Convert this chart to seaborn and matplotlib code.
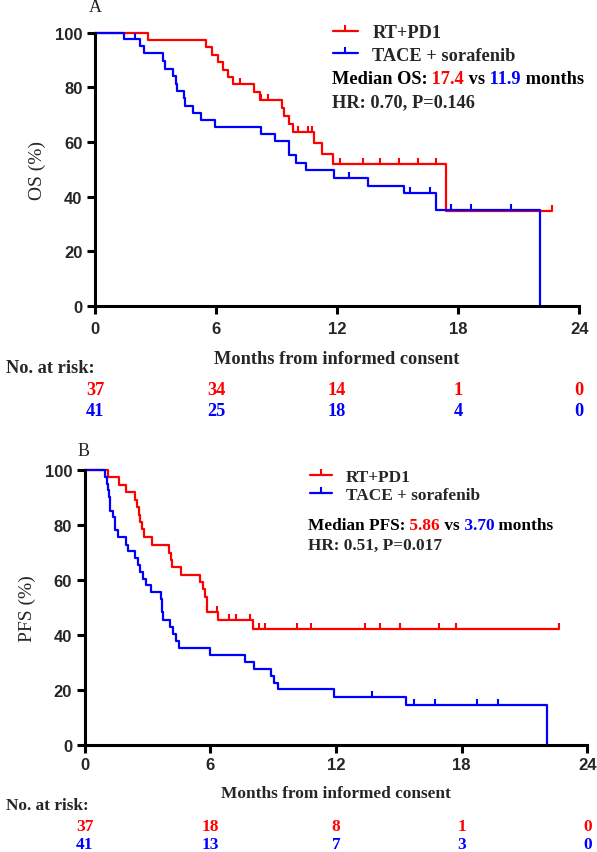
import numpy as np
import matplotlib
matplotlib.use("Agg")
import matplotlib.pyplot as plt
import seaborn as sns
from matplotlib.path import Path
from matplotlib.lines import Line2D
from matplotlib.transforms import blended_transform_factory

# ---------------------------------------------------------------------------
# Data (months, survival %)
# ---------------------------------------------------------------------------
# Panel A: overall survival
os_rt_times = [2.62, 5.49, 5.78, 6.08, 6.36, 6.60, 6.85, 7.89, 8.17, 9.25, 9.35,
               9.63, 9.80, 10.85, 11.26, 11.79, 17.39]
os_rt_surv = [97.2, 94.6, 91.9, 89.2, 86.5, 83.8, 81.1, 78.3, 75.5, 72.6, 69.6,
              66.5, 63.6, 59.6, 55.7, 52.0, 34.8]
os_rt_cens = [7.20, 8.25, 8.58, 10.05, 10.55, 10.75, 12.12, 13.27, 14.10, 15.07,
              16.00, 16.90, 22.64]

os_tace_times = [1.45, 2.22, 2.45, 3.39, 3.47, 3.88, 4.00, 4.07, 4.39, 4.46, 4.87,
                 5.25, 5.94, 8.23, 8.94, 9.63, 9.96, 10.45, 11.85, 13.52, 15.32,
                 16.90, 22.03]
os_tace_surv = [97.6, 95.0, 92.5, 89.5, 86.8, 84.0, 81.3, 78.8, 76.0, 73.3, 70.5,
                68.0, 65.4, 62.9, 60.2, 55.2, 52.5, 49.9, 47.0, 44.0, 41.3, 35.0, 0.0]
os_tace_cens = [2.00, 12.60, 15.60, 16.60, 17.65, 18.63, 20.60]

# Panel B: progression-free survival
pfs_rt_times = [1.14, 1.67, 1.99, 2.42, 2.51, 2.59, 2.67, 2.75, 2.83, 3.23, 4.05,
                4.13, 4.17, 4.61, 5.53, 5.65, 5.75, 5.86, 6.39, 8.04]
pfs_rt_surv = [97.3, 94.6, 91.9, 89.2, 86.5, 83.8, 81.1, 78.4, 75.7, 72.7, 70.0,
               67.4, 64.9, 62.0, 59.3, 56.6, 53.9, 48.5, 45.6, 42.2]
pfs_rt_cens = [6.31, 6.90, 7.23, 7.90, 8.32, 8.60, 10.14, 10.83, 13.37, 14.10,
               15.07, 16.93, 17.73, 22.67]

pfs_tace_times = [0.99, 1.07, 1.14, 1.19, 1.24, 1.35, 1.46, 1.59, 1.99, 2.10, 2.42,
                  2.54, 2.67, 2.81, 2.94, 3.18, 3.66, 3.70, 3.75, 4.10, 4.21, 4.37,
                  4.50, 6.01, 7.68, 8.08, 8.92, 9.03, 9.22, 11.92, 15.34, 22.07]
pfs_tace_surv = [97.6, 95.0, 92.9, 90.2, 85.2, 82.8, 78.2, 75.8, 72.7, 70.5, 68.1,
                 65.6, 62.9, 60.5, 58.1, 55.6, 53.2, 48.3, 45.6, 42.8, 40.3, 37.9,
                 35.1, 32.6, 30.2, 27.5, 25.1, 22.6, 20.2, 17.4, 14.4, 0.0]
pfs_tace_cens = [13.72, 15.74, 16.74, 18.73, 19.76]

risk_months = [0, 6, 12, 18, 24]
os_risk_rt = [37, 34, 14, 1, 0]
os_risk_tace = [41, 25, 18, 4, 0]
pfs_risk_rt = [37, 18, 8, 1, 0]
pfs_risk_tace = [41, 13, 7, 3, 0]

group_labels = ["RT+PD1", "TACE + sorafenib"]
RED = "#FF0000"
BLUE = "#0000FF"

# ---------------------------------------------------------------------------
sns.set_theme(style="ticks")
plt.rcParams["font.family"] = ["Liberation Serif", "DejaVu Serif"]

W, H = 597, 853
fig = plt.figure(figsize=(W / 100, H / 100), dpi=100)

SERIF = ["Liberation Serif", "DejaVu Serif"]
SANS = ["Liberation Sans", "DejaVu Sans"]

# censor tick: a short line going up from the curve
tick_marker = Path([[0, 0], [0, 1]], [Path.MOVETO, Path.LINETO])


def fx(px):
    return px / W


def fy(py):
    return 1 - py / H


def km_curve(ax, times, surv, cens, color):
    end = max([times[-1]] + list(cens))
    t = [0] + list(times)
    s = [100] + list(surv)
    if surv[-1] > 0:
        t.append(end)
        s.append(surv[-1])
    sns.lineplot(x=t, y=s, ax=ax, color=color, lw=1.6, drawstyle="steps-post",
                 estimator=None, sort=False, legend=False, clip_on=False)
    # survival level at each censoring time
    idx = np.searchsorted(np.array(t), np.array(cens), side="right") - 1
    s_c = np.array(s)[idx]
    ax.plot(cens, s_c, ls="none", marker=tick_marker, ms=9, mew=1.5,
            color=color, clip_on=False)


def panel(rect, curves, ylabel, ylab_x, letter, letter_xy, legend_xy, legend_fs,
          handle_len, labelspacing, stats_xy, stats_parts, hr_text, stat_gap,
          risk_rt, risk_tace, xlab_y, risk_title_y, risk_row_y, tick_pad):
    ax = fig.add_axes(rect)
    for times, surv, cens, color in curves:
        km_curve(ax, times, surv, cens, color)

    ax.set_xlim(0, 24)
    ax.set_ylim(0, 100)
    ax.set_xticks(risk_months)
    ax.set_yticks([0, 20, 40, 60, 80, 100])
    sns.despine(ax=ax)
    for side in ["left", "bottom"]:
        ax.spines[side].set_linewidth(2.2)
        ax.spines[side].set_color("black")
    ax.tick_params(axis="both", direction="out", length=6, width=2.2,
                   color="black", labelsize=12, pad=tick_pad)
    for lab in ax.get_xticklabels() + ax.get_yticklabels():
        lab.set_fontfamily(SANS)
        lab.set_fontweight("bold")
    ax.tick_params(axis="y", pad=3)

    ax.set_ylabel(ylabel, fontsize=14, family=SERIF)
    ax.yaxis.label.set_va("center")
    ax.yaxis.set_label_coords(ylab_x, 0.5)

    ax.set_xlabel("Months from informed consent", fontsize=legend_fs,
                  family=SERIF, fontweight="bold")
    ax.xaxis.label.set_va("center")
    bbox = ax.get_position()
    ax_h_px = bbox.height * H
    ax_bottom_px = (1 - bbox.y0) * H
    ax.xaxis.set_label_coords(0.5, -(xlab_y - ax_bottom_px) / ax_h_px)

    fig.text(fx(letter_xy[0]), fy(letter_xy[1]), letter, ha="center",
             va="center", fontsize=13, family=SERIF)

    handles = [Line2D([], [], color=c, lw=1.6, marker=tick_marker, ms=9, mew=1.5)
               for c in (RED, BLUE)]
    ax.legend(handles, group_labels, loc="center left",
              bbox_to_anchor=(fx(legend_xy[0]), fy(legend_xy[1])),
              bbox_transform=fig.transFigure, frameon=False,
              borderpad=0, borderaxespad=0, handlelength=handle_len,
              handletextpad=0.8, labelspacing=labelspacing,
              prop={"family": SERIF, "weight": "bold", "size": legend_fs})

    # median line with coloured numbers
    t = fig.text(fx(stats_xy[0]), fy(stats_xy[1]), stats_parts[0][0],
                 color=stats_parts[0][1], ha="left", va="center",
                 fontsize=legend_fs, family=SERIF, fontweight="bold")
    for s, c in stats_parts[1:]:
        t = ax.annotate(s, xy=(1, 0), xycoords=t, ha="left", va="bottom",
                        color=c, fontsize=legend_fs, family=SERIF,
                        fontweight="bold")
    fig.text(fx(stats_xy[0]), fy(stats_xy[1] + stat_gap), hr_text, ha="left",
             va="center", fontsize=legend_fs, family=SERIF, fontweight="bold")

    # number at risk table
    fig.text(fx(6), fy(risk_title_y), "No. at risk:", ha="left", va="center",
             fontsize=legend_fs, family=SERIF, fontweight="bold")
    tr = blended_transform_factory(ax.transData, fig.transFigure)
    for m, n in zip(risk_months, risk_rt):
        ax.text(m, fy(risk_row_y[0]), str(n), transform=tr, ha="center",
                va="center", color=RED, fontsize=legend_fs, family=SERIF,
                fontweight="bold")
    for m, n in zip(risk_months, risk_tace):
        ax.text(m, fy(risk_row_y[1]), str(n), transform=tr, ha="center",
                va="center", color=BLUE, fontsize=legend_fs, family=SERIF,
                fontweight="bold")
    return ax


# Panel A (axes spans 95..579 px horizontally, 34..307 px vertically)
panel([fx(95), fy(307), fx(579.3) - fx(95), fy(33.7) - fy(307)],
      [(os_rt_times, os_rt_surv, os_rt_cens, RED),
       (os_tace_times, os_tace_surv, os_tace_cens, BLUE)],
      "OS (%)", -0.119, "A", (95.5, 8), (333, 45), 13.2, 1.35, 0.3,
      (331.7, 80),
      [("Median OS:", "black"), (" 17.4", RED), (" vs", "black"),
       (" 11.9", BLUE), (" months", "black")],
      "HR: 0.70, P=0.146", 23,
      os_risk_rt, os_risk_tace, 360, 369, (391, 412), 5)

# Panel B (axes spans 84.5..587 px horizontally, 471..746 px vertically)
panel([fx(84.5), fy(746), fx(587.3) - fx(84.5), fy(471) - fy(746)],
      [(pfs_rt_times, pfs_rt_surv, pfs_rt_cens, RED),
       (pfs_tace_times, pfs_tace_surv, pfs_tace_cens, BLUE)],
      "PFS (%)", -0.114, "B", (84, 452), (310, 487), 12.4, 1.3, 0.08,
      (308, 526),
      [("Median PFS:", "black"), (" 5.86", RED), (" vs", "black"),
       (" 3.70", BLUE), (" months", "black")],
      "HR: 0.51, P=0.017", 20,
      pfs_risk_rt, pfs_risk_tace, 794, 806, (827, 845), 3)

fig.savefig("out.png", dpi=100)
